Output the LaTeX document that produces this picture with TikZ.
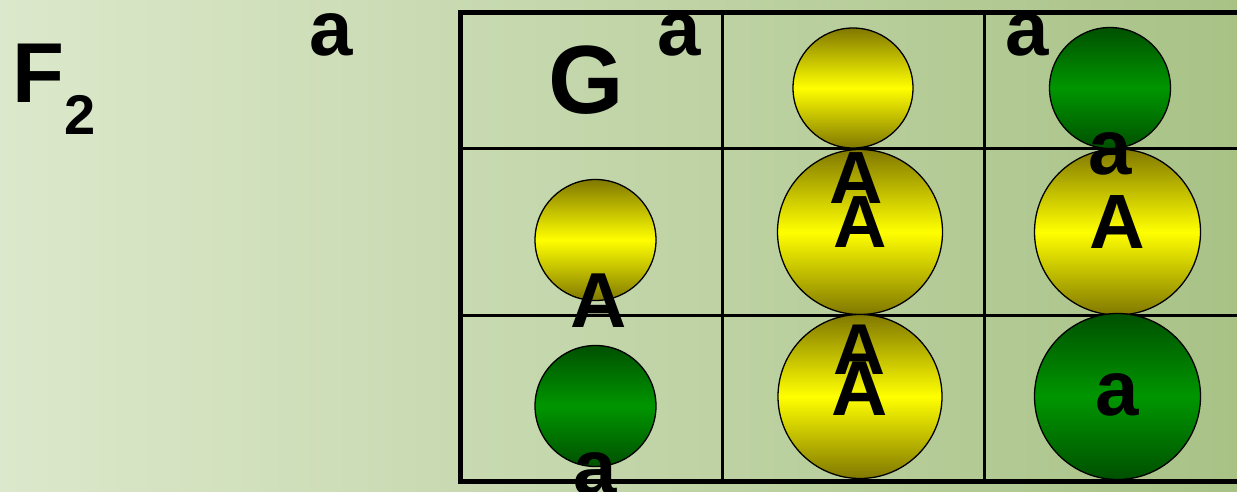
\documentclass[tikz,border=0pt]{standalone}
\usepackage{fontspec}
\setmainfont{Liberation Sans}
\definecolor{bgL}{RGB}{220,232,203}
\definecolor{bgR}{RGB}{168,194,134}
\definecolor{yd}{RGB}{128,120,0}
\definecolor{yl}{RGB}{255,255,0}
\definecolor{gd}{RGB}{0,80,0}
\definecolor{gl}{RGB}{0,150,0}
\begin{document}
\begin{tikzpicture}[x=1pt,y=-1pt,
  lbl/.style={inner sep=0pt, anchor=base, font=\bfseries\fontsize{#1}{#1}\selectfont},
  lbl/.default=78,
  ball/.style={circle, draw=black, line width=1.3pt, inner sep=0pt, outer sep=0pt, minimum size=#1},
  yball/.style={ball=#1, top color=yd, bottom color=yd, middle color=yl},
  gball/.style={ball=#1, top color=gd, bottom color=gd, middle color=gl},
  outer/.style={line width=5pt},
  inner/.style={line width=3pt}]
\useasboundingbox (0,0) rectangle (1237,492);
\clip (0,0) rectangle (1237,492);
\shade[left color=bgL, right color=bgR] (0,0) rectangle (1237,492);
% table
\draw[outer] (1260,12.5) -- (460,12.5) -- (460,481) -- (1260,481);
\draw[inner] (722.5,12.5) -- (722.5,481);
\draw[inner] (984,12.5) -- (984,481);
\draw[inner] (460,149) -- (1260,149);
\draw[inner] (460,315) -- (1260,315);
% balls
\node[yball=120pt] (c12) at (853,88) {};
\node[gball=121pt] (c13) at (1110,88) {};
\node[yball=121pt] (c21) at (595.5,240) {};
\node[gball=121pt] (c31) at (595.5,406) {};
\node[yball=165pt] (c22) at (860,232) {};
\node[yball=166pt] (c23) at (1117.5,232) {};
\node[yball=164pt] (c32) at (860,396.5) {};
\node[gball=166pt] (c33) at (1117.5,396.5) {};
% labels
\node[lbl=85, anchor=base west] (f2) at (12,103) {F\fontsize{56}{56}\selectfont\raisebox{-32pt}{2}};
\node[lbl] (t0) at (331.5,56) {a};
\node[lbl=97] (g) at (586.5,113.5) {G};
\node[lbl] (t11) at (679,56) {a};
\node[lbl] (t13) at (1027,56) {a};
\node[lbl] (t13b) at (1110,175) {a};
\node[lbl=74] (t22a) at (856,203) {A};
\node[lbl=74] (t22b) at (860,247) {A};
\node[lbl=77] (t23) at (1117.5,248) {A};
\node[lbl=78] (t21) at (599,327) {A};
\node[lbl=72] (t32a) at (859.5,374) {A};
\node[lbl=78] (t32b) at (860,415) {A};
\node[lbl] (t33) at (1117.5,415) {a};
\node[lbl] (t31) at (595,494) {a};
\end{tikzpicture}
\end{document}
